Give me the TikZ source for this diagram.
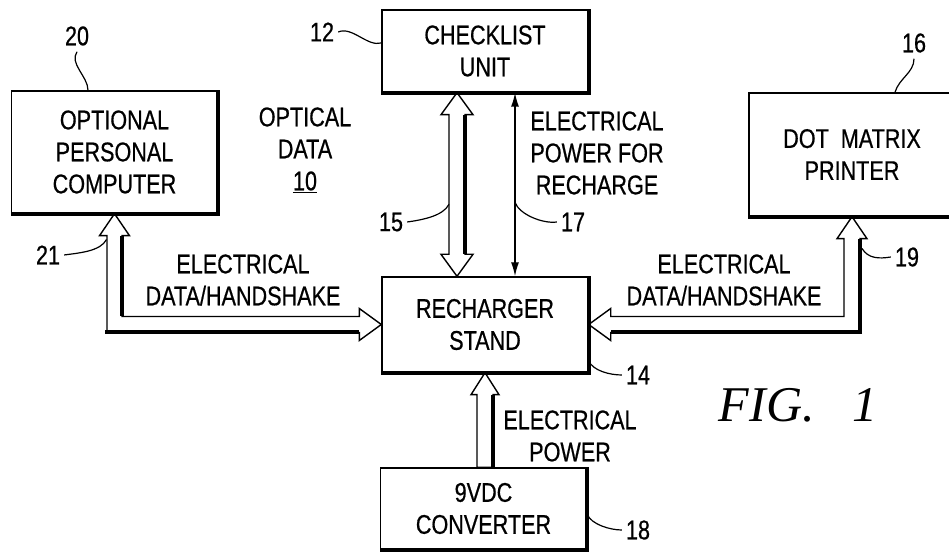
\documentclass[tikz,border=0pt]{standalone}
\usepackage{fontspec}
\setmainfont{Liberation Sans}[FakeStretch=0.8,FakeBold=0.6]
\newfontfamily\figfont{Liberation Serif}
\usetikzlibrary{arrows.meta,calc}

\begin{document}
\begin{tikzpicture}[x=1pt,y=1pt,
  every node/.style={font=\fontsize{27}{32}\selectfont},
  blk/.style={draw,line width=1.4pt,inner sep=0pt,align=center,minimum width=206pt},
  shd/.style={line width=4pt},
  harrow/.style={draw,line width=1.4pt,line join=miter,fill=white},
  txt/.style={align=center,inner sep=0pt},
  ref/.style={inner sep=0pt},
  lead/.style={line width=1.2pt}]
 \useasboundingbox (0,0) rectangle (949,556);
 % blocks
 \node[blk,minimum height=82pt]  (chk) at (485,505)   {CHECKLIST\\UNIT};
 \node[blk,minimum height=122pt] (pc)  at (114.5,404) {OPTIONAL\\PERSONAL\\COMPUTER};
 \node[blk,minimum height=123pt] (prn) at (852,401.5) {DOT\ \ MATRIX\\PRINTER};
 \node[blk,minimum height=95pt]  (rch) at (485,231.5) {RECHARGER\\STAND};
 \node[blk,minimum height=81pt]  (cnv) at (483.5,47.5) {9VDC\\CONVERTER};
 % optical data link 15
 \coordinate (a15t) at ([xshift=-28pt]chk.south);
 \coordinate (a15b) at ([xshift=-28pt]rch.north);
 \draw[harrow] (a15t) -- ++(-16,-22) -- ++(8,0) -- ($(a15b)+(-8,22)$) -- ++(-8,0)
   -- (a15b) -- ++(16,22) -- ++(-8,0) -- ($(a15t)+(8,-22)$) -- ++(8,0) -- cycle;
 \draw[shd] ($(a15t)+(8,-22)$) -- ($(a15b)+(8,22)$);
 % recharge power 17
 \draw[line width=1.4pt,{Latex[length=14pt,width=8pt]}-{Latex[length=14pt,width=8pt]}]
   ([xshift=30pt]chk.south) -- ([xshift=30pt]rch.north);
 % computer link 21
 \draw[harrow] (pc.south) -- ++(-15,-22) -- ++(7.5,0) -- ($(pc.south |- rch.west)+(-7.5,-8)$)
   -- ($(rch.west)+(-22,-8)$) -- ++(0,-8) -- (rch.west) -- ++(-22,16) -- ++(0,-8)
   -- ($(pc.south |- rch.west)+(7.5,8)$) -- ($(pc.south)+(7.5,-22)$) -- ++(7.5,0) -- cycle;
 \draw[shd] ($(pc.south)+(7.5,-22)$) -- ($(pc.south |- rch.west)+(7.5,8)$);
 \draw[shd] ($(pc.south |- rch.west)+(-9.5,-8)$) -- ($(rch.west)+(-22,-8)$);
 % printer link 19
 \draw[harrow] (prn.south) -- ++(-15,-22) -- ++(7,0) -- ($(prn.south |- rch.east)+(-8,8)$)
   -- ($(rch.east)+(22,8)$) -- ++(0,8) -- (rch.east) -- ++(22,-16) -- ++(0,8)
   -- ($(prn.south |- rch.east)+(8,-8)$) -- ($(prn.south)+(8,-22)$) -- ++(7,0) -- cycle;
 \draw[shd] ($(prn.south)+(8,-22)$) -- ($(prn.south |- rch.east)+(8,-10)$);
 \draw[shd] ($(prn.south |- rch.east)+(10,-8)$) -- ($(rch.east)+(22,-8)$);
 % converter power
 \draw[harrow] (rch.south) -- ++(14,-22) -- ++(-6,0) -- ($(cnv.north -| rch.south)+(8,0)$)
   -- ($(cnv.north -| rch.south)+(-8,0)$) -- ($(rch.south)+(-8,-22)$) -- ++(-6,0) -- cycle;
 \draw[shd] ($(rch.south)+(8,-22)$) -- ($(cnv.north -| rch.south)+(8,0)$);
 % shadow edges
 \foreach \n in {chk,pc,prn,rch,cnv}
   \draw[shd] (\n.north east) -- (\n.south east) -- (\n.south west);
 % texts
 \node[txt] (opt) at (305,406) {OPTICAL\\DATA\\\underline{10}};
 \node[txt] (epr) at (597,403) {ELECTRICAL\\POWER FOR\\RECHARGE};
 \node[txt] (edl) at (243,276) {ELECTRICAL\\DATA/HANDSHAKE};
 \node[txt] (edr) at (724,276) {ELECTRICAL\\DATA/HANDSHAKE};
 \node[txt] (epw) at (570,120) {ELECTRICAL\\POWER};
 \node[ref] (fig) at (798,151) {\figfont\itshape\fontsize{50}{54}\selectfont FIG.\ \ \ 1};
 % reference numerals
 \node[ref] (n12) at (322,524) {12};
 \node[ref] (n20) at (77,520)  {20};
 \node[ref] (n16) at (914,513) {16};
 \node[ref] (n21) at (48,301)  {21};
 \node[ref] (n19) at (907,299) {19};
 \node[ref] (n15) at (391,334) {15};
 \node[ref] (n17) at (573,334) {17};
 \node[ref] (n14) at (638,181) {14};
 \node[ref] (n18) at (638,26)  {18};
 \draw[lead] ([xshift=4pt]n12.east) .. controls +(14,6) and +(-14,-4) .. ([yshift=8pt]chk.west);
 \draw[lead] ([yshift=-6pt]n20.south) .. controls +(-8,-12) and +(0,14) .. ([xshift=-26.5pt]pc.north);
 \draw[lead] ([yshift=-6pt]n16.south) .. controls +(0,-14) and +(4,14) .. ([xshift=43pt]prn.north);
 \draw[lead] ([xshift=4pt]n21.east) .. controls +(14,2) and +(-6,-12) .. ($(pc.south |- rch.west)+(-8,85)$);
 \draw[lead] ([xshift=-4pt]n19.west) .. controls +(-12,-2) and +(6,-10) .. ($(prn.south |- rch.east)+(10,76)$);
 \draw[lead] ([xshift=4pt]n15.east) .. controls +(14,2) and +(-6,-12) .. ($(a15b)+(-8,72)$);
 \draw[lead] ([xshift=-4pt]n17.west) .. controls +(-14,-2) and +(4,-12) .. ([xshift=30pt]$(rch.north)+(0,74)$);
 \draw[lead] ([xshift=-4pt]n14.west) .. controls +(-12,0) and +(4,-10) .. ([yshift=12pt]rch.south east);
 \draw[lead] ([xshift=-4pt]n18.west) .. controls +(-12,0) and +(4,-10) .. ([yshift=-47pt]cnv.north east);
\end{tikzpicture}
\end{document}
